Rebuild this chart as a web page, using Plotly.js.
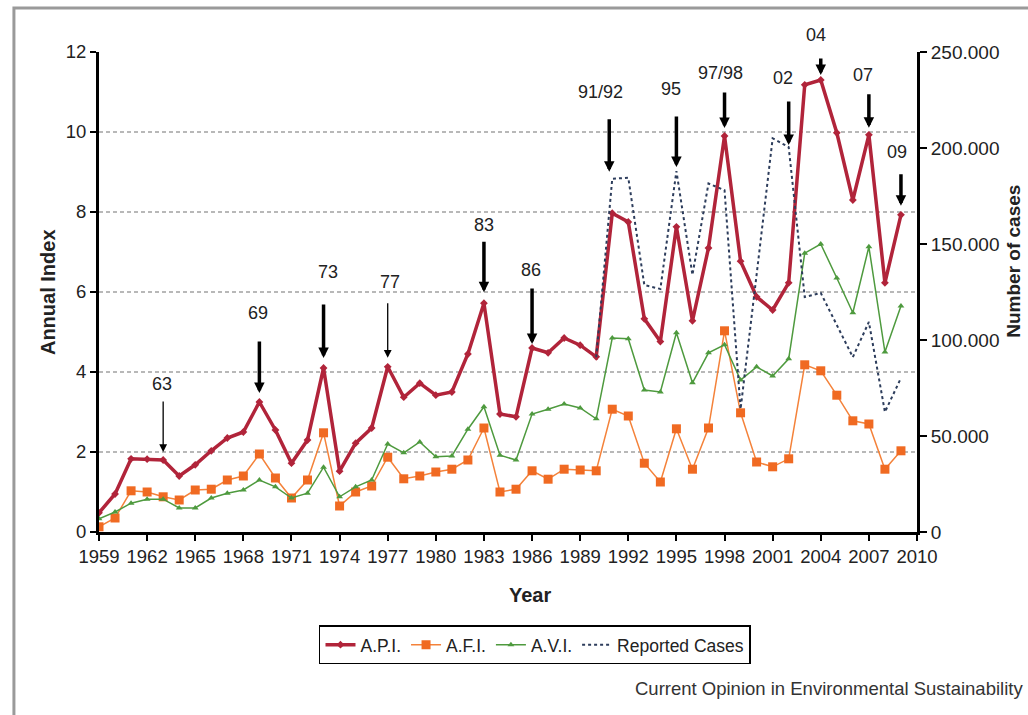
<!DOCTYPE html>
<html>
<head>
<meta charset="utf-8">
<script src="https://cdn.plot.ly/plotly-3.0.1.min.js"></script>
<style>html,body{margin:0;padding:0;background:#fff;}#chart{width:1028px;height:715px;}</style>
</head>
<body>
<div id="chart"></div>
<script>
// ---- data ----
const years = [1959,1960,1961,1962,1963,1964,1965,1966,1967,1968,1969,1970,1971,1972,1973,1974,1975,1976,1977,1978,1979,1980,1981,1982,1983,1984,1985,1986,1987,1988,1989,1990,1991,1992,1993,1994,1995,1996,1997,1998,1999,2000,2001,2002,2003,2004,2005,2006,2007,2008,2009];
const api = [0.48,0.95,1.83,1.82,1.8,1.4,1.68,2.03,2.35,2.5,3.25,2.55,1.72,2.3,4.1,1.52,2.22,2.6,4.13,3.37,3.72,3.42,3.5,4.45,5.72,2.95,2.88,4.6,4.48,4.85,4.67,4.38,7.97,7.75,5.33,4.76,7.63,5.28,7.1,9.9,6.77,5.88,5.55,6.23,11.18,11.3,9.98,8.3,9.93,6.23,7.93];
const afi = [0.13,0.35,1.03,1.0,0.88,0.8,1.05,1.07,1.3,1.4,1.95,1.35,0.85,1.3,2.48,0.65,1.0,1.15,1.87,1.33,1.4,1.5,1.57,1.8,2.6,1.0,1.07,1.53,1.32,1.57,1.55,1.53,3.07,2.9,1.72,1.25,2.58,1.57,2.6,5.03,2.98,1.75,1.63,1.83,4.18,4.03,3.42,2.78,2.7,1.57,2.03];
const avi = [0.33,0.5,0.72,0.82,0.82,0.6,0.6,0.85,0.97,1.05,1.3,1.13,0.85,0.97,1.62,0.88,1.13,1.3,2.2,1.98,2.25,1.88,1.9,2.57,3.13,1.92,1.8,2.95,3.07,3.2,3.1,2.83,4.85,4.83,3.55,3.5,4.98,3.73,4.48,4.68,3.8,4.13,3.9,4.33,6.97,7.2,6.35,5.48,7.13,4.5,5.65];
const caseYears = [1990,1991,1992,1993,1994,1995,1996,1997,1998,1999,2000,2001,2002,2003,2004,2005,2006,2007,2008,2009];
const cases = [91000,184000,184500,128600,126600,188000,133900,181500,178000,64000,134000,205000,200500,122400,124500,107800,91100,109400,62500,80200];
const seriesNames = ['A.P.I.','A.F.I.','A.V.I.','Reported Cases'];
const xTicks = [1959,1962,1965,1968,1971,1974,1977,1980,1983,1986,1989,1992,1995,1998,2001,2004,2007,2010];
const eventLabels = ['63','69','73','77','83','86','91/92','95','97/98','02','04','07','09'];
const eventYears = [1963,1969,1973,1977,1983,1986,1991,1995,1998,2002,2004,2007,2009];
const eventSeries = ['api','api','api','api','api','api','cases','cases','api','cases','api','api','api'];

// ---- styling / placement (not data) ----
const FONT = 'Liberation Sans, Arial, sans-serif';
const evStyle = {
  '63':   {ay:-60, st:8,  ly:76, lx:-1, w:1.3},
  '69':   {ay:-62, st:9,  ly:89, lx:-1, w:3.5},
  '73':   {ay:-65, st:10, ly:96, lx:4,  w:3.5},
  '77':   {ay:-65, st:9,  ly:85, lx:2,  w:1.3},
  '83':   {ay:-63, st:11, ly:78, lx:0,  w:3.5},
  '86':   {ay:-61, st:4,  ly:78, lx:-1, w:3.5},
  '91/92':{ay:-61, st:7,  ly:87, lx:-12,w:3.5, ax:-3},
  '95':   {ay:-56, st:4,  ly:82, lx:-5, w:3.5},
  '97/98':{ay:-45, st:8,  ly:63, lx:-4, w:3.5},
  '02':   {ay:-47, st:2,  ly:69, lx:-6, w:3.5},
  '04':   {ay:-23, st:5,  ly:45, lx:-5, w:3.5},
  '07':   {ay:-42, st:7,  ly:60, lx:-6, w:3.5},
  '09':   {ay:-42, st:9,  ly:63, lx:-4, w:3.5}
};

function valueFor(series, yr){
  if(series==='api') return api[years.indexOf(yr)];
  return cases[caseYears.indexOf(yr)];
}

const traces = [
  {x:years, y:api, name:seriesNames[0], type:'scatter', mode:'lines+markers',
   line:{color:'#b1243a', width:3.5}, marker:{symbol:'diamond', size:6, color:'#b1243a'}},
  {x:years, y:afi, name:seriesNames[1], type:'scatter', mode:'lines+markers',
   line:{color:'#f4823a', width:1.5}, marker:{symbol:'square', size:9, color:'#f06a22'}},
  {x:years, y:avi, name:seriesNames[2], type:'scatter', mode:'lines+markers',
   line:{color:'#4e9a3e', width:1.5}, marker:{symbol:'triangle-up', size:6, color:'#4e9a3e'}},
  {x:caseYears, y:cases, name:seriesNames[3], type:'scatter', mode:'lines', yaxis:'y2',
   line:{color:'#2d3d5c', width:2, dash:'3px,3px'}}
];

const annotations = [];
eventLabels.forEach((lab,i)=>{
  const s = evStyle[lab];
  const yr = eventYears[i];
  const ser = eventSeries[i];
  const yref = ser==='api' ? 'y' : 'y2';
  const v = valueFor(ser, yr);
  annotations.push({x:yr, y:v, xref:'x', yref:yref, text:'', showarrow:true,
    ax:0, ay:s.ay, arrowhead:2, arrowsize:s.w>2?0.6:1.2, arrowwidth:s.w, arrowcolor:'#000',
    standoff:s.st, xshift:s.ax||0});
  annotations.push({x:yr, y:v, xref:'x', yref:yref, text:lab, showarrow:false,
    xshift:s.lx, yshift:s.ly, font:{family:FONT, size:18, color:'#222'},
    xanchor:'center', yanchor:'middle'});
});
annotations.push({xref:'paper', yref:'paper', x:-0.0623, y:0.5, text:'<b>Annual Index</b>',
  textangle:-90, showarrow:false, xanchor:'center', yanchor:'middle',
  font:{family:FONT, size:20, color:'#222'}});
annotations.push({xref:'paper', yref:'paper', x:1.1185, y:0.565, text:'<b>Number of cases</b>',
  textangle:-90, showarrow:false, xanchor:'center', yanchor:'middle',
  font:{family:FONT, size:19, color:'#222'}});
annotations.push({xref:'paper', yref:'paper', x:0.527, y:-0.131, text:'<b>Year</b>',
  showarrow:false, xanchor:'center', yanchor:'middle',
  font:{family:FONT, size:20, color:'#222'}});
annotations.push({xref:'paper', yref:'paper', x:1.132, y:-0.325,
  text:'Current Opinion in Environmental Sustainability',
  showarrow:false, xanchor:'right', yanchor:'middle',
  font:{family:FONT, size:18.5, color:'#333'}});

const layout = {
  width:1028, height:715,
  margin:{l:99, r:111, t:52, b:183},
  paper_bgcolor:'#fff', plot_bgcolor:'#fff',
  separators:',.',
  font:{family:FONT, color:'#222'},
  showlegend:true,
  legend:{orientation:'h', x:0.533, y:-0.235, xanchor:'center', yanchor:'middle',
    bordercolor:'#000', borderwidth:1.5, font:{family:FONT, size:17.5, color:'#222'},
    itemwidth:30, tracegroupgap:0},
  xaxis:{range:[1959,2010], tickmode:'array', tickvals:xTicks, tickformat:'d',
    showgrid:false, zeroline:false, showline:true, linecolor:'#000', linewidth:3,
    ticks:'outside', ticklen:6, tickwidth:2, tickcolor:'#000',
    tickfont:{family:FONT, size:18.5, color:'#222'}, fixedrange:true},
  yaxis:{range:[0,12], dtick:2, showgrid:true, gridcolor:'#b8b8b8', griddash:'4px,3px', gridwidth:1.5,
    zeroline:false, showline:true, linecolor:'#000', linewidth:3,
    ticks:'outside', ticklen:6, tickwidth:2, tickcolor:'#000',
    tickfont:{family:FONT, size:18.5, color:'#222'}},
  yaxis2:{range:[0,250000], dtick:50000, overlaying:'y', side:'right', anchor:'x',
    tickformat:',d', showgrid:false, zeroline:false, showline:true, linecolor:'#000', linewidth:3,
    ticks:'outside', ticklen:7, tickwidth:2, tickcolor:'#000',
    tickfont:{family:FONT, size:19, color:'#222'}},
  annotations:annotations,
  shapes:[{type:'rect', xref:'paper', yref:'paper', x0:-0.104, x1:1.3, y0:-0.6, y1:1.0917,
    line:{color:'#9a9a9a', width:3}, fillcolor:'rgba(0,0,0,0)', layer:'below'}]
};

Plotly.newPlot('chart', traces, layout, {displayModeBar:false, staticPlot:true});
</script>
</body>
</html>
